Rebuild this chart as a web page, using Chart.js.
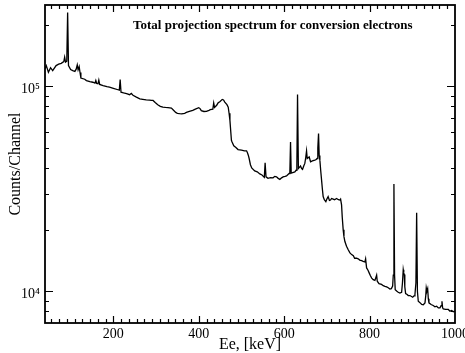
<!DOCTYPE html>
<html>
<head>
<meta charset="utf-8">
<title>Total projection spectrum for conversion electrons</title>
<script src="https://cdn.jsdelivr.net/npm/chart.js@4.4.0/dist/chart.umd.min.js"></script>
<style>
    html, body { margin: 0; padding: 0; background: #fff; }
    #chartSpectrum { display: block; }
</style>
</head>
<body>
<canvas id="chartSpectrum" width="465" height="353"></canvas>
<script>
// electron energy (keV) and counts per channel
var energy = [
    40, 43, 48, 53, 58, 66, 72, 78, 84, 86, 88, 91, 93, 95, 100, 105, 110, 113, 115.5, 117.5,
    120, 122, 124, 133, 137, 145, 152, 157, 159, 161, 164, 166, 168, 176, 185, 191, 200, 211, 214, 216,
    218, 224, 231, 238, 242, 246, 254, 262, 269, 277, 285, 289, 293, 298, 304, 310, 316, 322, 328, 336,
    341, 346, 350, 355, 360, 367, 371, 378, 386, 392, 400, 403, 406, 412, 418, 424, 427, 433, 435, 437,
    442, 445, 450, 455, 458, 461, 466, 469, 471, 473, 474.5, 476.5, 478, 482, 487, 492, 500, 507, 512, 514,
    516, 518, 521, 524, 531, 537, 543, 548, 551, 553.5, 555.4, 557.5, 562, 568, 574, 578, 582, 586, 590, 594,
    597.5, 602, 605.5, 609, 611.6, 613.3, 614.9, 616.5, 620, 625, 628, 629.7, 631.3, 633.3, 636, 638.3, 641, 643, 646, 648.4,
    650.5, 652.4, 654, 655.4, 658.5, 661.8, 666, 671.8, 675, 677.2, 678.8, 680.5, 682, 683.6, 685.5, 687.6, 689.5, 691.3, 694, 697.6,
    700, 703, 706, 708.6, 711, 714.7, 718, 722.7, 727, 730.4, 732.1, 734.4, 736, 738.2, 740, 742.2, 746, 750, 754, 758,
    762, 765, 769.6, 773.3, 777, 781.3, 785, 789, 790.7, 793, 796, 799, 802, 805, 808.5, 812.5, 816.5, 818, 822, 828,
    832, 836, 840, 843.7, 847.6, 851, 854, 855.5, 857, 858.5, 860, 864, 867, 871, 875, 877, 878.8, 880, 881.2, 882.5,
    884.4, 888, 890.5, 894.5, 901, 904, 906.2, 908.5, 910.2, 912, 914, 918, 922, 925.7, 929.7, 931.5, 932.7, 934.2, 936, 937.5,
    939, 944, 949, 953, 957, 961, 964.8, 967.5, 969.5, 971, 972.6, 978, 984.3, 988.3, 992.3, 996, 1000
];
var counts = [
    121900, 126500, 117400, 123500, 119600, 126500, 128500, 129800, 132300, 139000, 131500, 133000, 229700, 126500, 121000, 119600, 118500, 121500, 127500, 120500,
    125000, 117000, 110000, 108500, 106900, 105500, 104900, 103800, 107000, 103500, 103100, 107500, 102300, 101100, 99900, 99200, 98000, 96400, 96000, 108000,
    93800, 93000, 92200, 91200, 92500, 90600, 88700, 87000, 86500, 86000, 85800, 85500, 85500, 83500, 81500, 80000, 79300, 79000, 78800, 78500,
    76500, 74700, 74000, 73700, 73500, 74000, 74700, 75600, 76400, 77500, 78800, 78000, 76200, 75500, 75600, 76500, 77000, 77500, 83000, 79000,
    81000, 83000, 84500, 86500, 86000, 83900, 81500, 79300, 74000, 68300, 62000, 54600, 53600, 51300, 50400, 49200, 48900, 48500, 48500, 47500,
    46200, 44500, 41500, 40000, 38700, 38300, 37400, 37000, 36400, 36000, 42400, 36200, 35600, 35900, 35800, 36400, 36200, 35600, 35200, 35800,
    36200, 36400, 36600, 37200, 37600, 38000, 53600, 37800, 38000, 38300, 39000, 40500, 91400, 39800, 40400, 40900, 39700, 39400, 41000, 42100,
    45000, 48500, 44500, 44500, 45300, 42900, 43300, 43700, 44000, 44500, 50000, 58900, 46000, 43700, 39000, 34900, 31500, 29000, 28000, 27400,
    28200, 29000, 27800, 27900, 28400, 28200, 28000, 28400, 28000, 27900, 28200, 26400, 23000, 19950, 18500, 17500, 16600, 15950, 15400, 15100,
    14900, 14500, 14500, 14400, 14200, 14100, 14000, 13900, 14400, 13000, 12700, 12300, 11900, 11600, 11400, 11300, 12000, 11200, 10900, 10800,
    10650, 10570, 10500, 10400, 10250, 10300, 10600, 12000, 33400, 12000, 10190, 10000, 9890, 9800, 9890, 11000, 12750, 12300, 12060, 10500,
    9745, 9640, 9530, 9530, 9350, 9500, 9640, 11000, 24200, 10000, 8940, 8800, 8620, 8600, 8780, 9500, 10380, 10000, 10300, 9200,
    8780, 8620, 8520, 8400, 8455, 8300, 8300, 8500, 8940, 8300, 8210, 8150, 8150, 8000, 8060, 7950, 8000
];

var xMajor = [200, 400, 600, 800, 1000];
var xMinorPerMajor = 10;
var yMajor = [10000, 100000];
var yMajorLabels = ['10\u2074', '10\u2075'];
var yMinor = [8000, 9000, 20000, 30000, 40000, 50000, 60000, 70000, 80000, 90000, 200000];
var tituloGrafico = 'Total projection spectrum for conversion electrons';

var serif = '"Liberation Serif", "DejaVu Serif", serif';

// inward ticks on all four sides plus the frame and the inner title
var marcoGrafico = {
    id: 'marcoGrafico',
    afterDraw: function (chart) {
        var ctx = chart.ctx;
        var a = chart.chartArea;
        var sx = chart.scales.x;
        var sy = chart.scales.y;
        ctx.save();
        ctx.strokeStyle = '#000';
        ctx.lineWidth = 1.2;
        ctx.beginPath();
        function tickX(v, len) {
            var p = Math.round(sx.getPixelForValue(v)) + 0.5;
            ctx.moveTo(p, a.bottom); ctx.lineTo(p, a.bottom - len);
            ctx.moveTo(p, a.top); ctx.lineTo(p, a.top + len);
        }
        function tickY(v, len) {
            var p = Math.round(sy.getPixelForValue(v)) + 0.5;
            ctx.moveTo(a.left, p); ctx.lineTo(a.left + len, p);
            ctx.moveTo(a.right, p); ctx.lineTo(a.right - len, p);
        }
        var paso = 200 / (xMinorPerMajor + 1);
        for (var i = -11; i <= 44; i++) {
            var v = 200 + i * paso;
            if (v < sx.min || v > sx.max) continue;
            tickX(v, i % (xMinorPerMajor + 1) === 0 ? 7 : 4);
        }
        yMajor.forEach(function (v) { tickY(v, 8); });
        yMinor.forEach(function (v) { tickY(v, 4); });
        ctx.stroke();

        ctx.lineWidth = 1.8;
        ctx.strokeRect(a.left, a.top, a.right - a.left, a.bottom - a.top);

        ctx.fillStyle = '#000';
        ctx.font = 'bold 13px ' + serif;
        ctx.textAlign = 'left';
        ctx.textBaseline = 'alphabetic';
        ctx.fillText(tituloGrafico, a.left + 88, a.top + 24);
        ctx.restore();
    }
};

new Chart(document.getElementById('chartSpectrum').getContext('2d'), {
    type: 'line',
    data: {
        datasets: [{
            data: energy.map(function (e, i) { return { x: e, y: counts[i] }; }),
            borderColor: '#000',
            borderWidth: 1.3,
            pointRadius: 0,
            tension: 0,
            fill: false
        }]
    },
    options: {
        responsive: false,
        animation: false,
        devicePixelRatio: 1,
        layout: { padding: { top: 5, right: 10, left: 0, bottom: 0 } },
        plugins: {
            legend: { display: false },
            tooltip: { enabled: false }
        },
        scales: {
            x: {
                type: 'linear',
                min: 40,
                max: 1000,
                afterBuildTicks: function (s) {
                    s.ticks = xMajor.map(function (v) { return { value: v }; });
                },
                afterFit: function (s) {
                    s.height = 30;
                    s.paddingLeft = 0;
                    s.paddingRight = 0;
                },
                grid: { display: false, drawTicks: false },
                border: { display: false },
                ticks: {
                    color: '#000',
                    padding: 3,
                    maxRotation: 0,
                    autoSkip: false,
                    font: { family: serif, size: 14 },
                    callback: function (v) { return String(v); }
                },
                title: {
                    display: true,
                    text: 'Ee, [keV]',
                    color: '#000',
                    font: { family: serif, size: 16, lineHeight: 1 },
                    padding: 0
                }
            },
            y: {
                type: 'logarithmic',
                min: 7000,
                max: 250000,
                afterBuildTicks: function (s) {
                    s.ticks = yMajor.map(function (v) { return { value: v }; });
                },
                afterFit: function (s) {
                    s.width = 45;
                    s.paddingTop = 0;
                    s.paddingBottom = 0;
                },
                grid: { display: false, drawTicks: false },
                border: { display: false },
                ticks: {
                    color: '#000',
                    padding: 5,
                    labelOffset: 3,
                    autoSkip: false,
                    font: { family: serif, size: 14 },
                    callback: function (v) {
                        var k = yMajor.indexOf(v);
                        return k < 0 ? '' : yMajorLabels[k];
                    }
                },
                title: {
                    display: true,
                    text: 'Counts/Channel',
                    color: '#000',
                    font: { family: serif, size: 16, lineHeight: 1 },
                    padding: { top: 8, bottom: 0 }
                }
            }
        }
    },
    plugins: [marcoGrafico]
});
</script>
</body>
</html>
